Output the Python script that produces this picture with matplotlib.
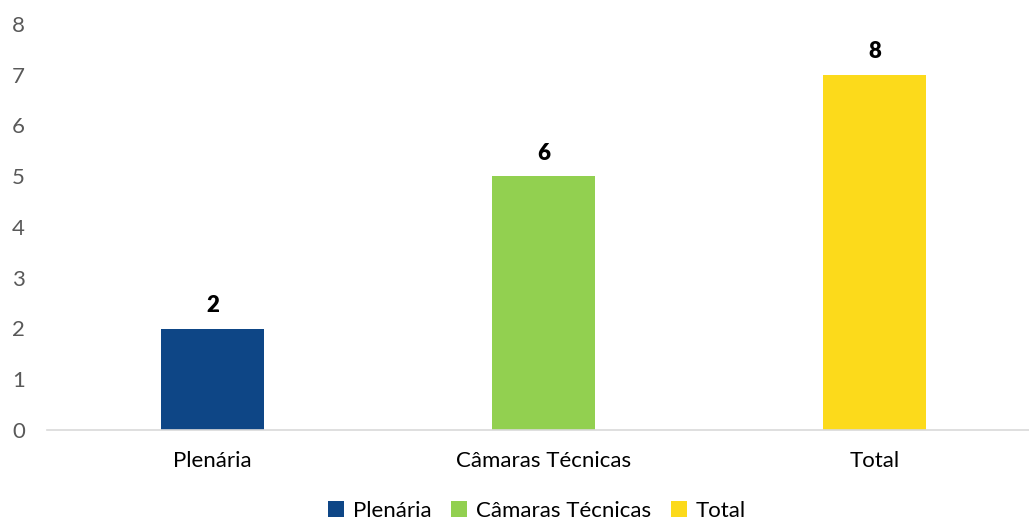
import matplotlib
matplotlib.use('Agg')
import matplotlib.pyplot as plt
from matplotlib.patches import Patch

categories = ['Plenária', 'Câmaras Técnicas', 'Total']
bar_heights = [2, 5, 7]
bar_labels = ['2', '6', '8']
colors = ['#0E4686', '#92D050', '#FCDA1B']

plt.rcParams['font.family'] = ['Lato', 'DejaVu Sans']

fig = plt.figure(figsize=(10.29, 5.22), dpi=100)
ax = fig.add_axes([47 / 1029, 92 / 522, 993 / 1029, 406 / 522])

x = list(range(len(categories)))
bars = ax.bar(x, bar_heights, width=0.314, color=colors, zorder=2)

for rect, lab in zip(bars, bar_labels):
    ax.annotate(lab, (rect.get_x() + rect.get_width() / 2, rect.get_height()),
                xytext=(0, 9), textcoords='offset points',
                ha='center', va='bottom', fontsize=16, fontweight='heavy', color='black')

ax.set_xlim(-0.5, 2.5)
ax.set_ylim(0, 8)
ax.set_yticks(range(0, 9))
ax.set_xticks(x)
ax.set_xticklabels(categories)
ax.tick_params(axis='y', length=0, pad=16, labelsize=16, labelcolor='#595959')
ax.tick_params(axis='x', length=0, pad=15, labelsize=16, labelcolor='#000000')

for side in ['top', 'right', 'left']:
    ax.spines[side].set_visible(False)
ax.spines['bottom'].set_color('#D9D9D9')
ax.spines['bottom'].set_linewidth(1.2)

handles = [Patch(facecolor=c, label=l) for c, l in zip(colors, categories)]
fig.legend(handles=handles, loc='center', bbox_to_anchor=(537 / 1029, 11 / 522),
           ncol=3, frameon=False, fontsize=16, handlelength=0.7, handleheight=0.7,
           handletextpad=0.4, columnspacing=0.9, borderpad=0.2)

fig.savefig('out.png', dpi=100)
